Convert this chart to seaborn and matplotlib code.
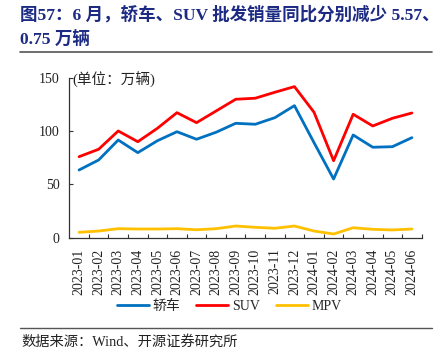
import matplotlib
matplotlib.use("Agg")
import matplotlib.pyplot as plt
import seaborn as sns
import pandas as pd
import numpy as np
from matplotlib.lines import Line2D
from matplotlib.ticker import FixedLocator

months = ['2023-01', '2023-02', '2023-03', '2023-04', '2023-05', '2023-06',
          '2023-07', '2023-08', '2023-09', '2023-10', '2023-11', '2023-12',
          '2024-01', '2024-02', '2024-03', '2024-04', '2024-05', '2024-06']
sedan = [63.5, 72.9, 91.7, 79.8, 91.0, 99.5, 92.4, 99.0, 107.4, 106.5, 112.7, 124.0,
         89.2, 55.0, 96.4, 84.9, 85.4, 93.9]
suv = [76.0, 83.0, 100.2, 90.1, 102.7, 117.4, 108.0, 119.0, 130.0, 131.0, 136.6, 141.9,
       117.8, 72.2, 115.9, 104.9, 112.1, 117.1]
mpv = [4.9, 6.1, 8.3, 8.0, 8.0, 8.3, 7.3, 8.3, 10.8, 9.6, 8.7, 10.8,
       6.1, 3.3, 9.2, 7.7, 7.1, 8.0]
series_names = ['轿车', 'SUV', 'MPV']
colors = ['#0070C0', '#FF0000', '#FFC000']
yticks = [0, 50, 100, 150]
title_line1 = '图57：6 月，轿车、SUV 批发销量同比分别减少 5.57、'
title_line2 = '0.75 万辆'
unit_text = '(单位：万辆)'
source_text = '数据来源：Wind、开源证券研究所'

sns.set_theme(style='white')
FAM = ['Liberation Serif', 'Noto Sans CJK SC', 'DejaVu Sans']
plt.rcParams['font.family'] = FAM

df = pd.DataFrame({
    'x': list(range(len(months))) * 3,
    'value': sedan + suv + mpv,
    'series': [series_names[0]] * len(months) + [series_names[1]] * len(months)
              + [series_names[2]] * len(months),
})

fig = plt.figure(figsize=(4.47, 3.57), dpi=100)
ax = fig.add_axes([0.155, 0.3347, 0.7884, 0.4468])

sns.lineplot(data=df, x='x', y='value', hue='series', hue_order=series_names,
             palette=colors, linewidth=2.0, ax=ax, legend=False)

ax.set_xlim(-0.5, len(months) - 0.5)
ax.set_ylim(0, 150)
ax.set_xlabel('')
ax.set_ylabel('')
ax.set_xticks(range(len(months)))
ax.set_xticklabels(months, rotation=90, fontsize=10, color='#222222')
ax.xaxis.set_minor_locator(FixedLocator(np.arange(0.5, len(months) - 0.5 + 0.01, 1.0)))
ax.tick_params(axis='x', which='major', length=0, pad=8)
ax.tick_params(axis='x', which='minor', direction='in', length=3, width=0.8,
               color='#333333', bottom=True)
ax.set_yticks(yticks)
ax.set_yticklabels([str(v) for v in yticks], fontsize=10, color='#222222')
ax.tick_params(axis='y', direction='in', length=3, width=0.8, color='#333333',
               left=True, pad=7)
for s in ['top', 'right']:
    ax.spines[s].set_visible(False)
for s in ['left', 'bottom']:
    ax.spines[s].set_color('#333333')
    ax.spines[s].set_linewidth(0.9)
ax.grid(False)

ax.text(0.008, 0.985, unit_text, transform=ax.transAxes, fontsize=10.5,
        ha='left', va='center', color='#222222')

handles = [Line2D([0], [0], color=c, lw=2.0) for c in colors]
fig.legend(handles, series_names, loc='center', bbox_to_anchor=(0.513, 1 - 306 / 357),
           ncol=3, frameon=False, fontsize=10, handlelength=2.3, handletextpad=0.25,
           columnspacing=1.2)

title_color = '#1C2A83'
fig.text(20 / 447, 1 - 15 / 357, title_line1, fontsize=12.6, fontweight='bold',
         color=title_color, ha='left', va='center')
fig.text(20 / 447, 1 - 40 / 357, title_line2, fontsize=12.6, fontweight='bold',
         color=title_color, ha='left', va='center')

fig.add_artist(Line2D([20 / 447, 432 / 447], [1 - 52 / 357, 1 - 52 / 357],
                      color='#555555', lw=1.2, transform=fig.transFigure))
fig.add_artist(Line2D([20 / 447, 432 / 447], [1 - 328 / 357, 1 - 328 / 357],
                      color='#555555', lw=1.0, transform=fig.transFigure))
fig.text(21 / 447, 1 - 342 / 357, source_text, fontsize=10.3, color='#222222',
         ha='left', va='center')

fig.savefig('out.png', dpi=100)
